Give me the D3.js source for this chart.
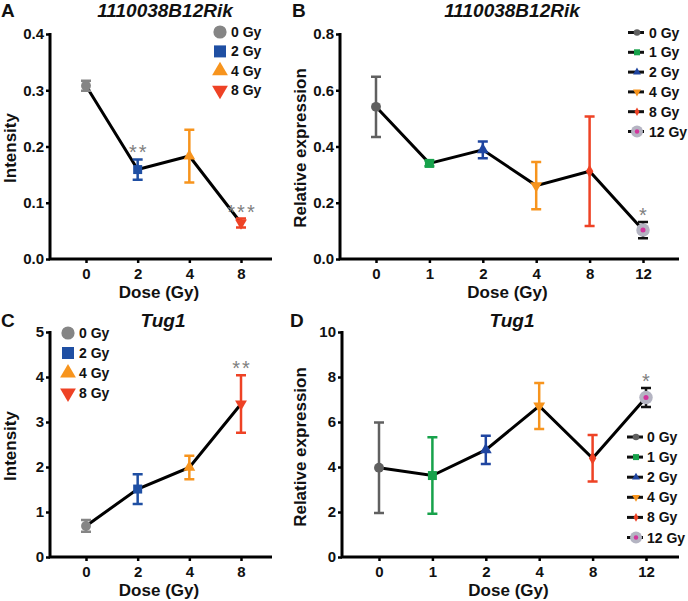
<!DOCTYPE html>
<html><head><meta charset="utf-8">
<script src="https://cdn.jsdelivr.net/npm/d3@7"></script>
<style>body{margin:0;background:#fff}svg{display:block}text{font-family:"Liberation Sans",Arial,sans-serif}</style>
</head><body>
<svg id="c" width="688" height="601"></svg>
<script>
// ---- data ----
const dosesAC = ["0","2","4","8"];
const dosesBD = ["0","1","2","4","8","12"];
const meanA = [0.308, 0.159, 0.183, 0.064];
const errA  = [0.009, 0.018, 0.047, 0.008];
const meanB = [0.541, 0.340, 0.388, 0.261, 0.312, 0.103];
const errB  = [0.107, 0.010, 0.030, 0.084, 0.195, 0.029];
const meanC = [0.69, 1.51, 1.99, 3.40];
const errC  = [0.13, 0.33, 0.26, 0.64];
const meanD = [3.97, 3.62, 4.76, 6.71, 4.39, 7.09];
const errD  = [2.01, 1.70, 0.63, 1.02, 1.03, 0.42];
const ticksA = [0, 0.1, 0.2, 0.3, 0.4];
const ticksB = [0, 0.2, 0.4, 0.6, 0.8];
const ticksC = [0, 1, 2, 3, 4, 5];
const ticksD = [0, 2, 4, 6, 8, 10];
const legendAC = ["0 Gy","2 Gy","4 Gy","8 Gy"];
const legendBD = ["0 Gy","1 Gy","2 Gy","4 Gy","8 Gy","12 Gy"];
const starsA = ["", "**", "", "***"];
const starsB = ["", "", "", "", "", "*"];
const starsC = ["", "", "", "**"];
const starsD = ["", "", "", "", "", "*"];

// ---- styles ----
const colAC = ["#858585", "#1f4fa3", "#f7941d", "#ee4225"];
const shapeAC = ["circle", "square", "tri", "tridown"];
const colBD = ["#606060", "#17a24b", "#1f45a0", "#f7941d", "#ee4225", "#b4b4c2"];
const errColBD = ["#606060", "#17a24b", "#1f45a0", "#f7941d", "#ee4225", "#111"];
const shapeBD = ["circle", "square", "tri", "tridown", "diamond", "circle12"];

const svg = d3.select("#c");

function marker(g, shape, color, cx, cy, s) {
  if (shape === "circle") {
    g.append("circle").attr("cx", cx).attr("cy", cy).attr("r", s * 0.55).attr("fill", color);
  } else if (shape === "circle12") {
    g.append("circle").attr("cx", cx).attr("cy", cy).attr("r", s * 0.75).attr("fill", color);
    g.append("circle").attr("cx", cx).attr("cy", cy).attr("r", s * 0.28).attr("fill", "#d2359c");
  } else {
    const sym = {square: d3.symbolSquare, tri: d3.symbolTriangle, tridown: d3.symbolTriangle, diamond: d3.symbolDiamond}[shape];
    const area = {square: s * s, tri: s * s * 0.75, tridown: s * s * 0.75, diamond: s * s * 0.6}[shape];
    g.append("path").attr("d", d3.symbol().type(sym).size(area)())
      .attr("transform", `translate(${cx},${cy})` + (shape === "tridown" ? " rotate(180)" : ""))
      .attr("fill", color);
  }
}

function panel(o) {
  const g = svg.append("g");
  const y = d3.scaleLinear().domain([o.ticks[0], o.ticks[o.ticks.length - 1]]).range([o.y0, o.y1]);
  const x = d3.scalePoint().domain(o.doses).range([o.xFirst, o.xLast]);

  // axes
  const ya = g.append("g").attr("transform", `translate(${o.ax},0)`)
    .call(d3.axisLeft(y).tickValues(o.ticks).tickFormat(o.fmt).tickSize(4).tickSizeOuter(0));
  ya.select(".domain").remove();
  ya.selectAll(".tick line").attr("stroke", "#000").attr("stroke-width", 2.5);
  ya.selectAll(".tick text").attr("font-size", 15).attr("font-weight", "bold").attr("fill", "#111").attr("x", -6);
  const xa = g.append("g").attr("transform", `translate(0,${o.y0})`)
    .call(d3.axisBottom(x).tickSize(4).tickSizeOuter(0));
  xa.select(".domain").remove();
  xa.selectAll(".tick line").attr("stroke", "#000").attr("stroke-width", 2.5);
  xa.selectAll(".tick text").attr("font-size", 15).attr("font-weight", "bold").attr("fill", "#111").attr("y", 9);
  g.append("path").attr("d", `M${o.ax},${o.y1 - 1}V${o.y0}H${o.axEnd}`)
    .attr("fill", "none").attr("stroke", "#000").attr("stroke-width", 3);

  // labels
  g.append("text").attr("x", (o.ax + o.axEnd) / 2 - 2).attr("y", o.y0 + 39).attr("text-anchor", "middle")
    .attr("font-size", 17).attr("font-weight", "bold").attr("fill", "#111").text("Dose (Gy)");
  g.append("text").attr("transform", `translate(${o.ylx},${o.ylc}) rotate(-90)`).attr("text-anchor", "middle")
    .attr("font-size", 17).attr("font-weight", "bold").attr("fill", "#111").text(o.ylabel);
  g.append("text").attr("x", o.tx).attr("y", o.ty).attr("text-anchor", "middle")
    .attr("font-size", 19).attr("font-weight", "bold").attr("font-style", "italic").attr("fill", "#111").text(o.title);
  g.append("text").attr("x", o.lx).attr("y", o.ty).attr("font-size", 19).attr("font-weight", "bold").attr("fill", "#111").text(o.letter);

  // line
  const pts = o.doses.map((d, i) => [x(d), y(o.mean[i])]);
  g.append("path").attr("d", d3.line()(pts)).attr("fill", "none").attr("stroke", "#000").attr("stroke-width", 3);

  // error bars & markers
  o.doses.forEach((d, i) => {
    const cx = x(d), top = y(o.mean[i] + o.err[i]), bot = y(o.mean[i] - o.err[i]);
    const ec = o.errCol[i];
    g.append("path").attr("d", `M${cx},${top}V${bot}M${cx - o.cap},${top}H${cx + o.cap}M${cx - o.cap},${bot}H${cx + o.cap}`)
      .attr("stroke", ec).attr("stroke-width", 2.5).attr("fill", "none");
    marker(g, o.shapes[i], o.cols[i], cx, y(o.mean[i]), o.ms);
    if (o.stars[i]) {
      g.append("text").attr("x", cx + 1).attr("y", top).attr("text-anchor", "middle")
        .attr("font-size", 20).attr("fill", "#808080").attr("letter-spacing", 2).text(o.stars[i]);
    }
  });

  // legend
  o.legend.forEach((t, i) => {
    const ly = o.legY + i * o.legDy;
    if (o.legLine) {
      g.append("line").attr("x1", o.legX - 9).attr("x2", o.legX + 7).attr("y1", ly).attr("y2", ly)
        .attr("stroke", "#111").attr("stroke-width", 3);
      marker(g, o.shapes[i], o.cols[i], o.legX, ly, o.shapes[i] === "circle12" ? 8 : 6);
    } else {
      marker(g, o.shapes[i], o.cols[i], o.legX, ly, 12);
    }
    g.append("text").attr("x", o.legTx).attr("y", ly + 5).attr("font-size", 14).attr("font-weight", "bold")
      .attr("fill", "#111").text(t);
  });
}

panel({doses: dosesAC, mean: meanA, err: errA, ticks: ticksA, fmt: d3.format(".1f"), stars: starsA,
  ax: 50, axEnd: 272, xFirst: 86, xLast: 241, y0: 259, y1: 34,
  ylabel: "Intensity", ylx: 16, ylc: 148, title: "1110038B12Rik", tx: 165, ty: 17, letter: "A", lx: 1,
  cols: colAC, errCol: colAC, shapes: shapeAC, ms: 9, cap: 5,
  legend: legendAC, legX: 220, legTx: 231, legY: 32, legDy: 19.4, legLine: false});

panel({doses: dosesBD, mean: meanB, err: errB, ticks: ticksB, fmt: d3.format(".1f"), stars: starsB,
  ax: 340, axEnd: 679, xFirst: 376, xLast: 643, y0: 259, y1: 34,
  ylabel: "Relative expression", ylx: 306, ylc: 148, title: "1110038B12Rik", tx: 512, ty: 17, letter: "B", lx: 292,
  cols: colBD, errCol: errColBD, shapes: shapeBD, ms: 9, cap: 5,
  legend: legendBD, legX: 637, legTx: 649, legY: 32.5, legDy: 19.8, legLine: true});

panel({doses: dosesAC, mean: meanC, err: errC, ticks: ticksC, fmt: d3.format("d"), stars: starsC,
  ax: 50, axEnd: 272, xFirst: 86, xLast: 241, y0: 557, y1: 332,
  ylabel: "Intensity", ylx: 16, ylc: 446, title: "Tug1", tx: 163, ty: 327, letter: "C", lx: 1,
  cols: colAC, errCol: colAC, shapes: shapeAC, ms: 9, cap: 5,
  legend: legendAC, legX: 68, legTx: 79, legY: 333, legDy: 20, legLine: false});

panel({doses: dosesBD, mean: meanD, err: errD, ticks: ticksD, fmt: d3.format("d"), stars: starsD,
  ax: 342, axEnd: 679, xFirst: 379, xLast: 646, y0: 557, y1: 332,
  ylabel: "Relative expression", ylx: 306, ylc: 447, title: "Tug1", tx: 512, ty: 327, letter: "D", lx: 290,
  cols: colBD, errCol: errColBD, shapes: shapeBD, ms: 9, cap: 5,
  legend: legendBD, legX: 636, legTx: 647, legY: 437, legDy: 20.1, legLine: true});
</script>
</body></html>
